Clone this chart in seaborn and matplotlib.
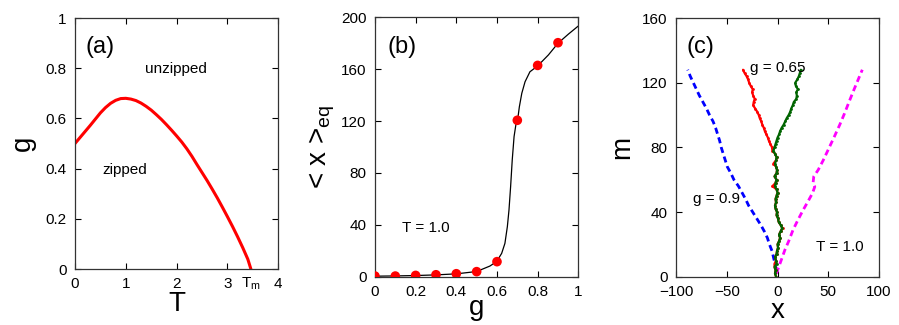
import matplotlib
matplotlib.use("Agg")
import matplotlib.pyplot as plt
import seaborn as sns

sns.set_theme(style="ticks")
plt.rcParams["font.family"] = ["Liberation Sans", "DejaVu Sans"]
plt.rcParams["mathtext.fontset"] = "custom"
plt.rcParams["mathtext.rm"] = "Liberation Sans"
plt.rcParams["text.color"] = "black"
plt.rcParams["axes.labelcolor"] = "black"

# (a) phase boundary g_c(T)
T_a = [0, 0.1, 0.2, 0.3, 0.4, 0.5, 0.6, 0.7, 0.8, 0.9, 1.0, 1.1, 1.2, 1.3,
       1.4, 1.5, 1.6, 1.7, 1.8, 1.9, 2.0, 2.1, 2.2, 2.3, 2.4, 2.5, 2.6, 2.7,
       2.8, 2.9, 3.0, 3.1, 3.2, 3.3, 3.4, 3.46]
g_a = [0.500, 0.524, 0.548, 0.572, 0.597, 0.622, 0.643, 0.660, 0.672, 0.679,
       0.680, 0.677, 0.671, 0.661, 0.648, 0.633, 0.615, 0.596, 0.575, 0.553,
       0.530, 0.506, 0.479, 0.449, 0.416, 0.384, 0.352, 0.318, 0.283, 0.246,
       0.208, 0.169, 0.128, 0.085, 0.039, 0.0]

# (b) <x>_eq vs g at T = 1.0
g_line = [0, 0.1, 0.2, 0.3, 0.4, 0.5, 0.565, 0.598, 0.623, 0.639, 0.651, 0.659,
          0.667, 0.675, 0.684, 0.694, 0.702, 0.710, 0.722, 0.738, 0.762, 0.8,
          0.853, 0.9, 0.951, 1.0]
x_line = [0.4, 0.6, 0.9, 1.4, 2.2, 4.0, 8.2, 11.6, 18, 25.7, 38.6, 51.4, 69.4,
          90, 108, 118.3, 121.5, 131, 141.4, 150.3, 158, 162.5, 171, 180, 187,
          193.3]
g_pts = [0, 0.1, 0.2, 0.3, 0.4, 0.5, 0.6, 0.7, 0.8, 0.9]
x_pts = [0.5, 0.5, 1.0, 1.5, 2.3, 3.9, 11.6, 120.6, 162.9, 180.4]

# (c) fork position x along chain index m
m_fine = list(range(0, 130, 2))
x_green = [-1.5, -2.5, -2, -3, -1, -1.5, -2.5, -1, -0.5, 0.5, 0, 1.5, 2.5, 1.5,
           3, 4.5, 3, 1, 0.5, -1, -0.5, -2, -2.5, -1.5, -2, -1, 0, -1, -2.5, -2,
           -1, -3, -1, -0.5, -1.5, -2.5, -1.5, -1, -2.5, -4, -3, -2, -1, 0, 1.5,
           2.5, 4, 6, 7.5, 9, 11, 12.5, 13.5, 15, 16, 18.5, 19, 18.5, 20, 18,
           17.5, 19.5, 21, 22, 23]
x_red = [-1.5, -2.5, -2, -3, -3, -1.5, -2.5, -1, -0.5, 0.5, 0, 1.5, 2.5, 1.5,
         3, 5, 3, 1, 0.5, -1, -0.5, -2, -2.5, -1.5, -2, -1, 0, -1, -5, -2,
         -1, -3, -1, -0.5, -1.5, -4, -1.5, -1, -2.5, -5, -5.5, -7, -8.5, -9.5,
         -11, -12.5, -13.5, -15, -16, -17.5, -18.5, -20, -22, -24, -23.5, -22.5,
         -24, -25, -24.5, -26.5, -28, -29, -30.5, -32.5, -34]
m_blue = [4, 8, 12, 16, 20, 24, 28, 32, 36, 40, 44, 48, 52, 56, 60, 64, 68, 72,
          76, 78, 80, 84, 88, 92, 96, 100, 104, 108, 112, 116, 120, 124, 128]
x_blue = [-1, -2.5, -4, -5.5, -8, -10, -13, -16.5, -20.5, -24.5, -28.5, -31.5,
          -35, -38.5, -43, -46, -49.5, -51.5, -53.5, -54.5, -55.5, -57, -59, -61,
          -63.5, -67, -70, -73.5, -77, -80, -83, -86, -88.5]
m_mag = [2, 5, 10, 16.5, 22, 29, 35, 41, 46, 51.6, 55.7, 58, 62, 66, 72, 78.4,
         86, 94, 101, 109, 116, 122, 128]
x_mag = [-1, 0.6, 3.5, 7.2, 11, 15.3, 20, 25, 29.5, 34.4, 36.7, 35, 35.7, 40,
         45, 49.8, 55.5, 61.3, 66, 71, 75.5, 79.5, 83.5]

fig = plt.figure(figsize=(8.99, 3.25), dpi=100)
ax_a = fig.add_axes([0.0834, 0.1723, 0.2262, 0.7723])
ax_b = fig.add_axes([0.4171, 0.1486, 0.2262, 0.7982])
ax_c = fig.add_axes([0.7520, 0.1486, 0.2258, 0.7960])

for ax in (ax_a, ax_b, ax_c):
    ax.tick_params(direction="in", top=True, right=True, length=4, width=0.8,
                   labelsize=11, pad=6, colors="black")
    for s in ax.spines.values():
        s.set_color("#333333")
        s.set_linewidth(0.9)

# panel (a)
sns.lineplot(x=T_a, y=g_a, ax=ax_a, color="red", lw=2.2)
ax_a.set_xlim(0, 4)
ax_a.set_ylim(0, 1)
ax_a.set_xticks([0, 1, 2, 3, 4])
ax_a.set_yticks([0, 0.2, 0.4, 0.6, 0.8, 1])
ax_a.set_yticklabels(["0", "0.2", "0.4", "0.6", "0.8", "1"])
ax_a.set_xlabel("T", fontsize=20, labelpad=0)
ax_a.set_ylabel("g", fontsize=20, labelpad=7)
ax_a.text(0.49, 0.884, "(a)", fontsize=17, ha="center", va="center")
ax_a.text(1.99, 0.795, "unzipped", fontsize=11, ha="center", va="center")
ax_a.text(0.98, 0.394, "zipped", fontsize=11, ha="center", va="center")
ax_a.text(3.46, -0.025, r"T$_\mathregular{m}$", fontsize=11, ha="center",
          va="top")

# panel (b)
sns.lineplot(x=g_line, y=x_line, ax=ax_b, color="black", lw=0.9)
sns.scatterplot(x=g_pts, y=x_pts, ax=ax_b, color="red", s=48, edgecolor="none",
                zorder=3)
ax_b.set_xlim(0, 1)
ax_b.set_ylim(0, 200)
ax_b.set_xticks([0, 0.2, 0.4, 0.6, 0.8, 1])
ax_b.set_xticklabels(["0", "0.2", "0.4", "0.6", "0.8", "1"])
ax_b.set_yticks([0, 40, 80, 120, 160, 200])
ax_b.set_xlabel("g", fontsize=20, labelpad=-3)
ax_b.set_ylabel(r"< x >$_\mathregular{eq}$", fontsize=20, labelpad=3)
ax_b.text(0.131, 177, "(b)", fontsize=17, ha="center", va="center")
ax_b.text(0.251, 37.3, "T = 1.0", fontsize=11, ha="center", va="center")

# panel (c)
dash = (0, (2.2, 1.4))
sns.lineplot(x=x_blue, y=m_blue, ax=ax_c, color="blue", lw=2.0, sort=False,
             estimator=None, linestyle=dash)
sns.lineplot(x=x_mag, y=m_mag, ax=ax_c, color="magenta", lw=2.0, sort=False,
             estimator=None, linestyle=dash)
sns.lineplot(x=x_red, y=m_fine, ax=ax_c, color="red", lw=1.6, sort=False,
             estimator=None, marker="o", markersize=2, markeredgewidth=0)
sns.lineplot(x=x_green, y=m_fine, ax=ax_c, color="#006400", lw=1.6, sort=False,
             estimator=None, marker="o", markersize=2, markeredgewidth=0)
ax_c.set_xlim(-100, 100)
ax_c.set_ylim(0, 160)
ax_c.set_xticks([-100, -50, 0, 50, 100])
ax_c.set_yticks([0, 40, 80, 120, 160])
ax_c.set_xlabel("x", fontsize=20, labelpad=-1)
ax_c.set_ylabel("m", fontsize=20, labelpad=5)
ax_c.text(-76.4, 142, "(c)", fontsize=17, ha="center", va="center")
ax_c.text(-27, 129, "g = 0.65", fontsize=11, ha="left", va="center")
ax_c.text(-83, 47.9, "g = 0.9", fontsize=11, ha="left", va="center")
ax_c.text(38, 18.6, "T = 1.0", fontsize=11, ha="left", va="center")

fig.savefig("out.png", dpi=100)
